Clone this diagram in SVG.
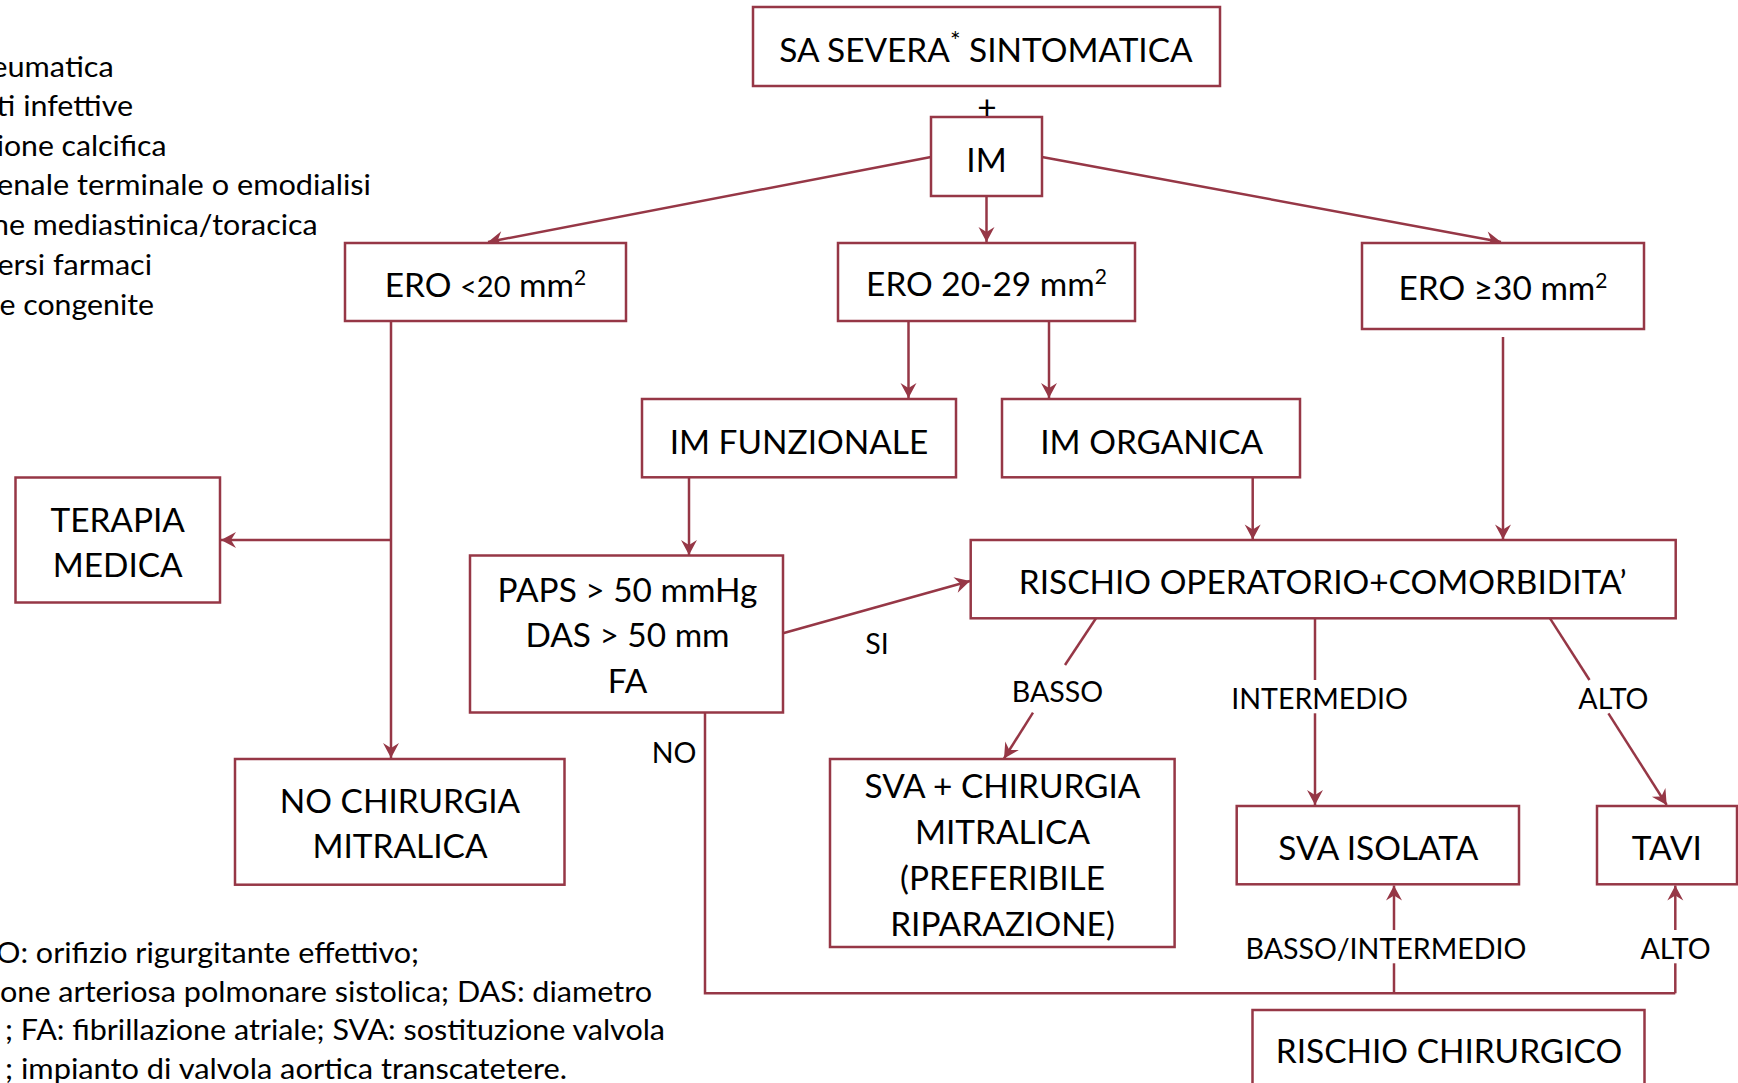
<svg xmlns="http://www.w3.org/2000/svg" width="1738" height="1083" viewBox="0 0 1738 1083">
<style>
.box{fill:#fff;stroke:#963746;stroke-width:2.5}
.t{font-family:Lato,"Open Sans","Liberation Sans",sans-serif;font-size:33.4px;fill:#000;text-anchor:middle}
.l{font-family:Lato,"Open Sans","Liberation Sans",sans-serif;font-size:28.6px;fill:#000;text-anchor:middle}
.n{font-family:Lato,"Open Sans","Liberation Sans",sans-serif;font-size:29.5px;fill:#000}
.sup{font-size:21px}
.e{fill:none;stroke:#963746;stroke-width:2.5}
.a{marker-end:url(#ah)}
</style>
<defs>
<marker id="ah" viewBox="-16 -9 17 18" refX="0" refY="0" markerWidth="17" markerHeight="18" markerUnits="userSpaceOnUse" orient="auto">
<path d="M0,0 L-15,-8 L-10,0 L-15,8 Z" fill="#963746"/>
</marker>
</defs>
<rect width="1738" height="1083" fill="#fff"/>

<g id="notes-top">
<text class="n" x="-8.7" y="76.5" textLength="122.4" lengthAdjust="spacingAndGlyphs">eumatica</text>
<text class="n" x="-3.4" y="116" textLength="136.4" lengthAdjust="spacingAndGlyphs">ti infettive</text>
<text class="n" x="-3.3" y="155.5" textLength="169.8" lengthAdjust="spacingAndGlyphs">ione calcifica</text>
<text class="n" x="-3" y="195" textLength="374" lengthAdjust="spacingAndGlyphs">enale terminale o emodialisi</text>
<text class="n" x="-8" y="235" textLength="325.6" lengthAdjust="spacingAndGlyphs">ne mediastinica/toracica</text>
<text class="n" x="-2.6" y="274.5" textLength="154.6" lengthAdjust="spacingAndGlyphs">ersi farmaci</text>
<text class="n" x="-0.5" y="314.5" textLength="154.5" lengthAdjust="spacingAndGlyphs">e congenite</text>
</g>

<g id="notes-bottom">
<text class="n" x="-4" y="963" textLength="423" lengthAdjust="spacingAndGlyphs">O: orifizio rigurgitante effettivo;</text>
<text class="n" x="0" y="1001.5" textLength="652" lengthAdjust="spacingAndGlyphs">one arteriosa polmonare sistolica; DAS: diametro</text>
<text class="n" x="5" y="1040" textLength="660" lengthAdjust="spacingAndGlyphs">; FA: fibrillazione atriale; SVA: sostituzione valvola</text>
<text class="n" x="5" y="1078.5" textLength="562" lengthAdjust="spacingAndGlyphs">; impianto di valvola aortica transcatetere.</text>
</g>

<g id="connectors">
<path class="e a" d="M931,157 L488,242"/>
<path class="e a" d="M986.5,196 L986.5,242"/>
<path class="e a" d="M1042,157 L1501,242"/>
<path class="e a" d="M908.5,321 L908.5,398"/>
<path class="e a" d="M1049,321 L1049,398"/>
<path class="e a" d="M391,321 L391,758"/>
<path class="e a" d="M391,540 L221,540"/>
<path class="e a" d="M689,477.5 L689,555"/>
<path class="e a" d="M1252.7,477.5 L1252.7,539.5"/>
<path class="e a" d="M1503,337 L1503,539.5"/>
<path class="e a" d="M783,633.3 L970,581"/>
<path class="e" d="M1096,618.3 L1065,665"/>
<path class="e a" d="M1033,712.7 L1004,758.5"/>
<path class="e" d="M1315,618.3 L1315,680"/>
<path class="e a" d="M1315,713.3 L1315,805"/>
<path class="e" d="M1550,618.3 L1589.5,680"/>
<path class="e a" d="M1608.4,713.3 L1666.7,805"/>
<path class="e" d="M705,712.3 L705,993.3 L1675.3,993.3"/>
<path class="e" d="M1394,993.3 L1394,963.3"/>
<path class="e a" d="M1394,930 L1394,885.5"/>
<path class="e" d="M1675.3,993.3 L1675.3,963.3"/>
<path class="e a" d="M1675.3,930 L1675.3,885.5"/>
<text class="l" x="877" y="653.5">SI</text>
<text class="l" x="1057.5" y="701.7">BASSO</text>
<text class="l" x="1319.6" y="709.3">INTERMEDIO</text>
<text class="l" x="1613.4" y="709.3">ALTO</text>
<text class="l" x="674" y="763.3">NO</text>
<text class="l" x="1386" y="959.3">BASSO/INTERMEDIO</text>
<text class="l" x="1675.6" y="959.3">ALTO</text>
</g>

<g id="sa-severa">
<rect class="box" x="753" y="7" width="467" height="79"/>
<text class="t" x="986" y="62">SA SEVERA<tspan font-size="25" dy="-12">*</tspan><tspan dy="12"> SINTOMATICA</tspan></text>
</g>
<g id="im">
<rect class="box" x="931" y="117" width="111" height="79"/>
<text class="t" x="986.5" y="172">IM</text>
</g>
<g id="plus">
<text class="t" x="987" y="119" font-size="40">+</text>
</g>
<g id="ero-lt20">
<rect class="box" x="345" y="243" width="281" height="78"/>
<text class="t" x="485.5" y="297">ERO <tspan font-size="29">&lt;20</tspan> mm<tspan class="sup" dy="-12">2</tspan></text>
</g>
<g id="ero-20-29">
<rect class="box" x="838" y="243" width="297" height="78"/>
<text class="t" x="986.5" y="296">ERO 20-29 mm<tspan class="sup" dy="-12">2</tspan></text>
</g>
<g id="ero-ge30">
<rect class="box" x="1362" y="243" width="282" height="86"/>
<text class="t" x="1503" y="300">ERO ≥30 mm<tspan class="sup" dy="-12">2</tspan></text>
</g>
<g id="im-funzionale">
<rect class="box" x="642" y="399" width="314" height="78.3"/>
<text class="t" x="799" y="454">IM FUNZIONALE</text>
</g>
<g id="im-organica">
<rect class="box" x="1002" y="399" width="298" height="78.3"/>
<text class="t" x="1151.7" y="454">IM ORGANICA</text>
</g>
<g id="terapia-medica">
<rect class="box" x="15.5" y="477.5" width="204.5" height="125"/>
<text class="t" x="117.7" y="531.7">TERAPIA</text>
<text class="t" x="117.7" y="576.7">MEDICA</text>
</g>
<g id="paps">
<rect class="box" x="470" y="555.5" width="313" height="157"/>
<text class="t" x="627.5" y="602.3">PAPS &gt; 50 mmHg</text>
<text class="t" x="627.5" y="647.3">DAS &gt; 50 mm</text>
<text class="t" x="627.5" y="693.3">FA</text>
</g>
<g id="rischio-operatorio">
<rect class="box" x="970.7" y="540" width="705" height="78.3"/>
<text class="t" x="1322.8" y="594">RISCHIO OPERATORIO+COMORBIDITA’</text>
</g>
<g id="no-chirurgia">
<rect class="box" x="235" y="759" width="329.5" height="125.7"/>
<text class="t" x="400" y="813.3">NO CHIRURGIA</text>
<text class="t" x="400" y="858.3">MITRALICA</text>
</g>
<g id="sva-chirurgia">
<rect class="box" x="830" y="759" width="344.6" height="188"/>
<text class="t" x="1002.5" y="798">SVA + CHIRURGIA</text>
<text class="t" x="1002.5" y="844">MITRALICA</text>
<text class="t" x="1002.5" y="890">(PREFERIBILE</text>
<text class="t" x="1002.5" y="936">RIPARAZIONE)</text>
</g>
<g id="sva-isolata">
<rect class="box" x="1236.7" y="806" width="282.3" height="78.3"/>
<text class="t" x="1378.3" y="860">SVA ISOLATA</text>
</g>
<g id="tavi">
<rect class="box" x="1597" y="806" width="140" height="78.3"/>
<text class="t" x="1666.8" y="860">TAVI</text>
</g>
<g id="rischio-chirurgico">
<rect class="box" x="1252.5" y="1010" width="392" height="90"/>
<text class="t" x="1449" y="1063.3">RISCHIO CHIRURGICO</text>
</g>
</svg>
